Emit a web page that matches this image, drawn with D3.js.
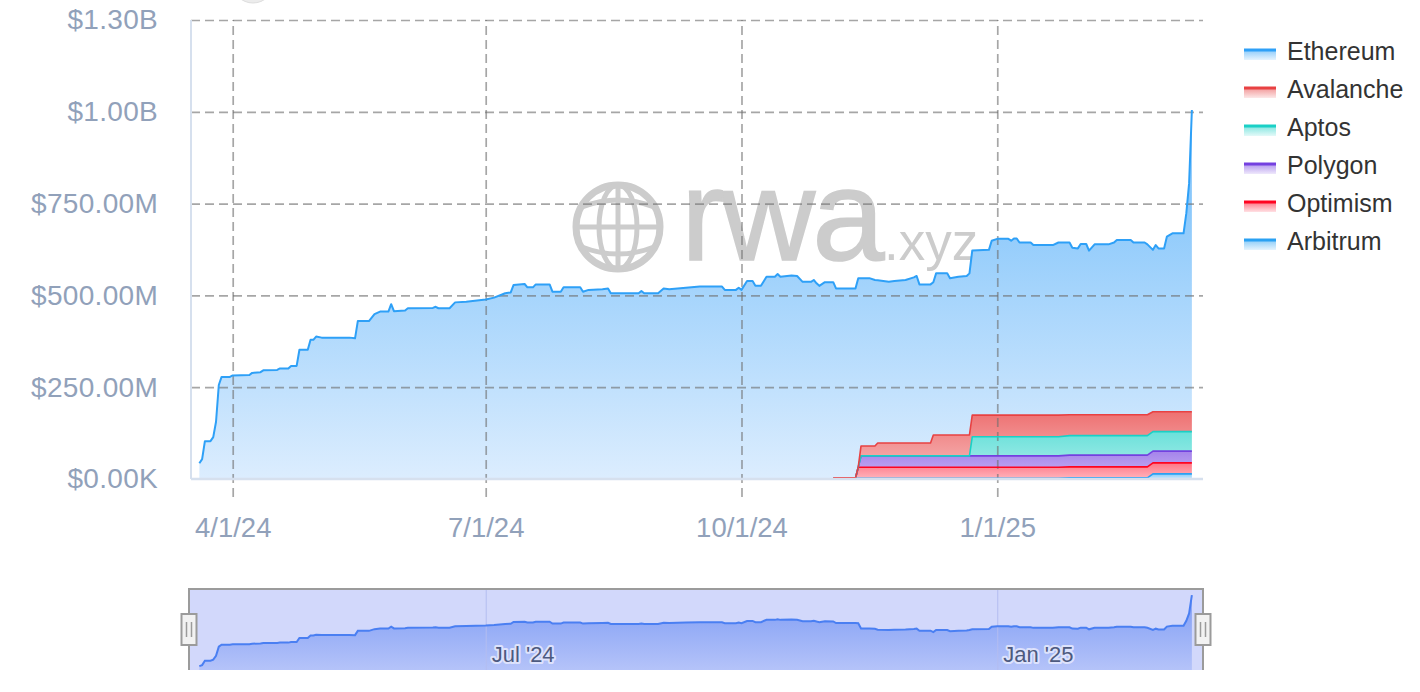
<!DOCTYPE html>
<html>
<head>
<meta charset="utf-8">
<script src="https://cdn.jsdelivr.net/npm/d3@7"></script>
<style>
  html, body { margin: 0; padding: 0; background: #fff; }
  svg { display: block; font-family: "Liberation Sans", Arial, Helvetica, sans-serif; }
</style>
</head>
<body>
<svg id="chart" width="1420" height="692"></svg>
<script>
// RWA value by chain, stacked area (values in millions of USD)

const dates = [
  "2024-03-20","2024-03-21","2024-03-22","2024-03-24","2024-03-25","2024-03-26","2024-03-27","2024-03-28","2024-03-31",
  "2024-04-01","2024-04-07","2024-04-08","2024-04-11","2024-04-12","2024-04-17","2024-04-18","2024-04-21","2024-04-22","2024-04-24","2024-04-25","2024-04-28","2024-04-29","2024-04-30",
  "2024-05-01","2024-05-03","2024-05-13","2024-05-15","2024-05-16","2024-05-20","2024-05-22","2024-05-24","2024-05-27","2024-05-28","2024-05-29",
  "2024-06-02","2024-06-03","2024-06-12","2024-06-13","2024-06-14","2024-06-18","2024-06-20","2024-06-24",
  "2024-07-01","2024-07-04","2024-07-08","2024-07-10","2024-07-11","2024-07-15","2024-07-16","2024-07-18","2024-07-19","2024-07-24","2024-07-25","2024-07-28","2024-07-29",
  "2024-08-04","2024-08-05","2024-08-07","2024-08-12","2024-08-14","2024-08-15","2024-08-25","2024-08-26","2024-08-27",
  "2024-09-01","2024-09-03","2024-09-05","2024-09-11","2024-09-16","2024-09-24","2024-09-25","2024-09-29","2024-09-30",
  "2024-10-01","2024-10-03","2024-10-05","2024-10-06","2024-10-08","2024-10-10","2024-10-13","2024-10-14","2024-10-15","2024-10-19","2024-10-21","2024-10-23","2024-10-26","2024-10-27","2024-10-28","2024-10-29","2024-10-31",
  "2024-11-03","2024-11-04","2024-11-10","2024-11-11","2024-11-12","2024-11-13","2024-11-16","2024-11-18","2024-11-19","2024-11-23","2024-11-25","2024-11-29",
  "2024-12-02","2024-12-03","2024-12-04","2024-12-08","2024-12-09","2024-12-10","2024-12-14","2024-12-15","2024-12-18","2024-12-21","2024-12-22","2024-12-23","2024-12-29","2024-12-30",
  "2025-01-01","2025-01-05","2025-01-06","2025-01-07","2025-01-08","2025-01-09","2025-01-13","2025-01-14","2025-01-21","2025-01-23","2025-01-27","2025-01-28","2025-01-30","2025-01-31",
  "2025-02-02","2025-02-03","2025-02-05","2025-02-10","2025-02-12","2025-02-13","2025-02-18","2025-02-19","2025-02-23","2025-02-24","2025-02-26","2025-02-27","2025-02-28",
  "2025-03-02","2025-03-03","2025-03-05","2025-03-09","2025-03-10","2025-03-11","2025-03-12"
];

const ethereum = [
  43,54,103,103,114,156,256,278,278,
  282,283,289,291,296,297,301,301,308,308,352,352,379,379,
  388,385,385,383,430,430,449,456,456,476,457,
  459,465,466,469,465,465,481,483,
  489,494,506,508,528,531,522,522,530,530,510,510,522,
  522,510,515,517,519,506,506,512,506,
  506,519,517,521,524,524,515,515,521,
  515,539,539,526,526,551,551,558,551,554,553,537,537,542,533,526,536,
  533,516,516,516,514,457,457,452,443,439,441,444,
  451,455,432,432,416,440,440,427,431,433,440,448,450,475,
  480,480,475,481,481,470,470,463,463,470,469,455,453,465,
  465,447,464,464,469,476,476,469,469,464,441,454,445,
  445,477,486,486,541,622,822
];

// the other chains only have data from this date on (aligned with dates from it)
const l2StartDate = "2024-11-03";

const avalanche = [
  1,1,1,1,1,27,27,27,35,35,35,35,
  35,35,35,35,57,57,57,57,57,57,57,59,59,59,
  59,59,59,59,59,59,59,59,59,59,57,57,57,57,
  57,57,57,57,57,57,57,57,57,57,54,54,54,
  54,54,54,54,54,54,54
];
const aptos = [
  0,0,0,0,0,0,0,0,0,0,0,0,
  0,0,0,0,0,0,0,0,0,0,0,52,52,52,
  52,52,52,52,52,52,52,52,52,52,53,53,53,53,
  53,53,53,53,53,53,53,53,53,53,53,53,53,
  53,53,53,53,53,53,53
];
const polygon = [
  0,0,0,0,0,31,31,31,31,31,31,31,
  31,31,31,31,31,31,31,31,31,31,31,31,31,31,
  31,31,31,31,31,31,31,31,31,31,32,32,32,32,
  32,32,32,32,32,32,32,32,32,32,32,32,32,
  32,32,32,32,32,32,32
];
const optimism = [
  1,1,1,1,30,30,30,30,30,30,30,30,
  30,30,30,30,30,30,30,30,30,30,30,30,30,30,
  30,30,30,30,30,30,30,30,30,30,30,30,30,30,
  30,30,30,30,30,30,30,30,30,30,30,30,30,
  30,30,30,30,30,30,30
];
const arbitrum = [
  1,1,1,1,2,2,2,2,2,2,2,2,
  2,2,2,2,2,2,2,2,2,2,2,2,2,2,
  2,2,2,2,2,2,2,2,2,2,3,3,3,3,
  3,3,3,3,3,3,3,3,3,3,14,14,14,
  14,14,14,14,14,14,14
];

const yTicks = [0, 250, 500, 750, 1000, 1250];
const yTickLabels = ["$0.00K", "$250.00M", "$500.00M", "$750.00M", "$1.00B", "$1.30B"];
const xTicks = ["2024-04-01", "2024-07-01", "2024-10-01", "2025-01-01"];
const xTickLabels = ["4/1/24", "7/1/24", "10/1/24", "1/1/25"];
const navTicks = ["2024-07-01", "2025-01-01"];
const navTickLabels = ["Jul '24", "Jan '25"];

const M = 1e6;
const parse = d3.utcParse("%Y-%m-%d");
const svg = d3.select("#chart");
const defs = svg.append("defs");

const plot = { left: 191, right: 1203, top: 20, bottom: 479 };
const nav = { left: 189, right: 1203, top: 589, bottom: 670 };

const x = d3.scaleUtc()
  .domain([parse("2024-03-17"), parse("2025-03-16")])
  .range([plot.left, plot.right]);
const y = d3.scaleLinear().domain([0, 1250 * M]).range([plot.bottom, plot.top]);

// stack order is bottom -> top; legend order is the reverse
const series = [
  { key: "arbitrum", name: "Arbitrum", values: arbitrum, color: "#2aa1f2", top: 0.55, bottom: 0.25 },
  { key: "optimism", name: "Optimism", values: optimism, color: "#ff0420", top: 0.55, bottom: 0.3 },
  { key: "polygon", name: "Polygon", values: polygon, color: "#7440e0", top: 0.65, bottom: 0.4 },
  { key: "aptos", name: "Aptos", values: aptos, color: "#1ad0c6", top: 0.65, bottom: 0.35 },
  { key: "avalanche", name: "Avalanche", values: avalanche, color: "#e84142", top: 0.75, bottom: 0.35 },
  { key: "ethereum", name: "Ethereum", values: ethereum, color: "#2ea0f7" }
];

const startIdx = dates.indexOf(l2StartDate);
const rows = dates.map((d, i) => {
  const r = { date: parse(d), ethereum: ethereum[i] * M };
  series.filter(s => s.key !== "ethereum").forEach(s => {
    r[s.key] = i >= startIdx ? s.values[i - startIdx] * M : 0;
  });
  return r;
});
const layers = d3.stack().keys(series.map(s => s.key))(rows);

// gradients
series.forEach(s => {
  const g = defs.append("linearGradient").attr("id", "grad-" + s.key)
    .attr("x1", 0).attr("y1", 0).attr("x2", 0).attr("y2", 1);
  if (s.key === "ethereum") {
    g.attr("gradientUnits", "userSpaceOnUse").attr("y1", 200).attr("y2", plot.bottom);
    g.append("stop").attr("offset", 0).attr("stop-color", "#8ac8fb");
    g.append("stop").attr("offset", 1).attr("stop-color", "#dcedfe");
  } else {
    g.append("stop").attr("offset", 0).attr("stop-color", s.color).attr("stop-opacity", s.top);
    g.append("stop").attr("offset", 1).attr("stop-color", s.color).attr("stop-opacity", s.bottom);
  }
});

// little grey button peeking in at the top
svg.append("circle").attr("cx", 253).attr("cy", -18).attr("r", 21)
  .attr("fill", "#ececec").attr("stroke", "#dedede");

// watermark
const wm = svg.append("g").attr("fill", "none").attr("stroke", "#cccccc");
const gx = 618, gy = 227, gr = 42;
wm.append("circle").attr("cx", gx).attr("cy", gy).attr("r", gr).attr("stroke-width", 7);
wm.append("ellipse").attr("cx", gx).attr("cy", gy).attr("rx", 19).attr("ry", gr).attr("stroke-width", 5);
wm.append("line").attr("x1", gx).attr("x2", gx).attr("y1", gy - gr).attr("y2", gy + gr).attr("stroke-width", 5);
wm.append("line").attr("x1", gx - gr).attr("x2", gx + gr).attr("y1", gy).attr("y2", gy).attr("stroke-width", 5);
wm.append("path").attr("d", `M${gx - 36},${gy - 20} Q${gx},${gy - 34} ${gx + 36},${gy - 20}`).attr("stroke-width", 5);
wm.append("path").attr("d", `M${gx - 36},${gy + 20} Q${gx},${gy + 34} ${gx + 36},${gy + 20}`).attr("stroke-width", 5);
svg.append("text").attr("x", 681).attr("y", 260).attr("font-size", 130)
  .attr("fill", "#cccccc").attr("stroke", "#cccccc").attr("stroke-width", 1.5)
  .attr("letter-spacing", -3).text("rwa");
svg.append("text").attr("x", 884).attr("y", 260).attr("font-size", 53)
  .attr("fill", "#cccccc").text(".xyz");

// areas
const area = d3.area().x(d => x(d.data.date)).y0(d => y(d[0])).y1(d => y(d[1]));
const line = d3.line().x(d => x(d.data.date)).y(d => y(d[1]));

const gAreas = svg.append("g");
layers.forEach((layer, i) => {
  const s = series[i];
  const pts = s.key === "ethereum" ? layer : layer.slice(startIdx);
  gAreas.append("path").datum(pts).attr("d", area).attr("fill", `url(#grad-${s.key})`);
});

// grid
const gridStyle = sel => sel.selectAll("line")
  .attr("stroke", "#6f6f6f").attr("stroke-opacity", 0.62)
  .attr("stroke-width", 1.7).attr("stroke-dasharray", "9,5");

svg.append("g")
  .attr("transform", `translate(${plot.left},0)`)
  .call(d3.axisLeft(y).tickValues(yTicks.slice(1).map(v => v * M))
    .tickSize(-(plot.right - plot.left)).tickFormat(""))
  .call(g => g.select(".domain").remove())
  .call(gridStyle);

svg.append("g")
  .attr("transform", `translate(0,497)`)
  .call(d3.axisBottom(x).tickValues(xTicks.map(parse))
    .tickSize(-(497 - plot.top)).tickFormat(""))
  .call(g => g.select(".domain").remove())
  .call(gridStyle);

// series lines
layers.forEach((layer, i) => {
  const s = series[i];
  const pts = s.key === "ethereum" ? layer : layer.slice(startIdx);
  svg.append("path").datum(pts).attr("d", line)
    .attr("fill", "none").attr("stroke", s.color)
    .attr("stroke-width", s.key === "ethereum" ? 2 : 1.6)
    .attr("stroke-linejoin", "round");
});

// axis lines
svg.append("line").attr("x1", plot.left).attr("x2", plot.left)
  .attr("y1", plot.top).attr("y2", plot.bottom)
  .attr("stroke", "#d6e0ee").attr("stroke-width", 2);
svg.append("line").attr("x1", plot.left).attr("x2", plot.right)
  .attr("y1", plot.bottom).attr("y2", plot.bottom)
  .attr("stroke", "#d6e0ee").attr("stroke-width", 2.5);

// axis labels
svg.append("g")
  .attr("transform", `translate(${plot.left},0)`)
  .call(d3.axisLeft(y).tickValues(yTicks.map(v => v * M))
    .tickFormat((d, i) => yTickLabels[i]).tickSize(0).tickPadding(33))
  .call(g => g.select(".domain").remove())
  .call(g => g.selectAll("text").attr("fill", "#91a1ba").attr("font-size", 28)
    .attr("letter-spacing", 0.3)
    .attr("font-family", "Liberation Sans, Arial, sans-serif"));

svg.append("g")
  .attr("transform", `translate(0,${plot.bottom})`)
  .call(d3.axisBottom(x).tickValues(xTicks.map(parse))
    .tickFormat((d, i) => xTickLabels[i]).tickSize(0).tickPadding(38))
  .call(g => g.select(".domain").remove())
  .call(g => g.selectAll("text").attr("fill", "#91a1ba").attr("font-size", 27.5)
    .attr("font-family", "Liberation Sans, Arial, sans-serif"));

// legend
const legendOrder = series.slice().reverse();
const legend = svg.append("g");
legendOrder.forEach((s, i) => {
  const ry = 50 + i * 38;
  const lg = defs.append("linearGradient").attr("id", "lg-" + s.key)
    .attr("x1", 0).attr("y1", 0).attr("x2", 0).attr("y2", 1);
  lg.append("stop").attr("offset", 0).attr("stop-color", s.color).attr("stop-opacity", 0.55);
  lg.append("stop").attr("offset", 1).attr("stop-color", s.color).attr("stop-opacity", 0.12);
  legend.append("rect").attr("x", 1244).attr("y", ry).attr("width", 32).attr("height", 10)
    .attr("fill", `url(#lg-${s.key})`);
  legend.append("line").attr("x1", 1244).attr("x2", 1276).attr("y1", ry).attr("y2", ry)
    .attr("stroke", s.color).attr("stroke-width", 3);
  legend.append("text").attr("x", 1287).attr("y", ry + 10)
    .attr("font-size", 25).attr("fill", "#333").text(s.name);
});

// navigator
const yNav = d3.scaleLinear().domain([0, 890 * M]).range([nav.bottom, nav.top]);
const navRows = dates.map((d, i) => ({ date: parse(d), v: ethereum[i] * M }));

svg.append("rect").attr("x", nav.left).attr("y", nav.top)
  .attr("width", nav.right - nav.left).attr("height", nav.bottom - nav.top)
  .attr("fill", "#d2d8fb");

const ng = defs.append("linearGradient").attr("id", "grad-nav")
  .attr("x1", 0).attr("y1", 0).attr("x2", 0).attr("y2", 1)
  .attr("gradientUnits", "userSpaceOnUse").attr("y1", 610).attr("y2", nav.bottom);
ng.append("stop").attr("offset", 0).attr("stop-color", "#3f6ff0").attr("stop-opacity", 0.5);
ng.append("stop").attr("offset", 1).attr("stop-color", "#3f6ff0").attr("stop-opacity", 0.2);

svg.append("path").datum(navRows)
  .attr("d", d3.area().x(d => x(d.date)).y0(nav.bottom).y1(d => yNav(d.v)))
  .attr("fill", "url(#grad-nav)");

svg.append("g")
  .attr("transform", `translate(0,${nav.bottom})`)
  .call(d3.axisBottom(x).tickValues(navTicks.map(parse))
    .tickSize(-(nav.bottom - nav.top)).tickFormat(""))
  .call(g => g.select(".domain").remove())
  .call(g => g.selectAll("line").attr("stroke", "#b3bdf0").attr("stroke-width", 1));

svg.append("path").datum(navRows)
  .attr("d", d3.line().x(d => x(d.date)).y(d => yNav(d.v)))
  .attr("fill", "none").attr("stroke", "#4a7ff2").attr("stroke-width", 2);

navTicks.forEach((t, i) => {
  svg.append("text").attr("x", x(parse(t)) + 6).attr("y", 662)
    .attr("font-size", 22).attr("fill", "#4d5a80")
    .attr("stroke", "#dde2fc").attr("stroke-width", 4).attr("paint-order", "stroke")
    .attr("stroke-linejoin", "round")
    .text(navTickLabels[i]);
});

svg.append("path")
  .attr("d", `M${nav.left},${nav.bottom}V${nav.top}H${nav.right}V${nav.bottom}`)
  .attr("fill", "none").attr("stroke", "#9b9b9b").attr("stroke-width", 2);

[nav.left, nav.right].forEach(hx => {
  const h = svg.append("g").attr("transform", `translate(${hx},614)`);
  h.append("rect").attr("x", -7.5).attr("y", 0).attr("width", 15).attr("height", 31)
    .attr("fill", "#f2f2f2").attr("stroke", "#9b9b9b").attr("stroke-width", 2);
  [-2.5, 2.5].forEach(dx => h.append("line")
    .attr("x1", dx).attr("x2", dx).attr("y1", 8).attr("y2", 23)
    .attr("stroke", "#9b9b9b").attr("stroke-width", 1.5));
});
</script>
</body>
</html>
